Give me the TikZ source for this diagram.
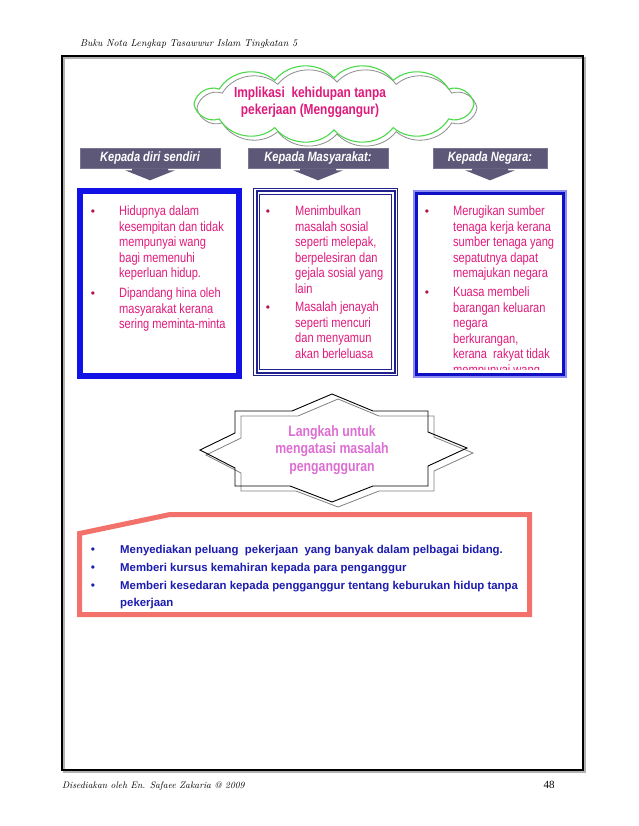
\documentclass[tikz,border=0pt]{standalone}
\usepackage{fontspec}
\usepackage{xcolor}
\usepackage{tikz}
\usetikzlibrary{arrows.meta,positioning,calc}
\newfontfamily\narrowsf{Liberation Sans}[FakeStretch=0.82]
\newfontfamily\plainsf{Liberation Sans}
\newfontfamily\numserif{Liberation Serif}
\definecolor{cPinkT}{HTML}{E01A7C}
\definecolor{cPinkB}{HTML}{B3124F}
\definecolor{cLabF}{HTML}{5E5878}
\definecolor{cLabL}{HTML}{7A7592}
\definecolor{cBlue}{HTML}{1212E6}
\definecolor{cNavy}{HTML}{20208F}
\definecolor{cBlueL}{HTML}{8C8CF2}
\definecolor{cCloud}{HTML}{4CD94C}
\definecolor{cSalmon}{HTML}{F2716B}
\definecolor{cStarT}{HTML}{DD6ED3}
\definecolor{cStepT}{HTML}{1C1CB0}

\begin{document}
\begin{tikzpicture}[x=1pt,y=-1pt,
  lab/.style={fill=cLabF,draw=cLabL,line width=0.6pt,minimum height=20pt,
    inner sep=0pt,text=white,font=\narrowsf\bfseries\itshape\fontsize{13.5}{15}\selectfont},
  body/.style={anchor=base west,inner sep=0pt,text=cPinkT,
    font=\narrowsf\fontsize{13.5}{15.5}\selectfont},
  blt/.style={anchor=base,inner sep=0pt,text=cPinkB,font=\plainsf\fontsize{12}{14}\selectfont},
  langkah/.style={anchor=base west,inner sep=0pt,text=cStepT,
    font=\plainsf\bfseries\fontsize{11.4}{14}\selectfont},
  sblt/.style={blt,text=cStepT}]

  \useasboundingbox (0,0) rectangle (638,826);
  \fill[white] (0,0) rectangle (638,826);

  \draw[black!30,line width=2.5pt] (64,58) rectangle (585,772);
  \draw[black,line width=2.5pt] (62,56) rectangle (583,770);
  \node[anchor=base west,inner sep=0pt,font=\itshape\fontsize{10}{12}\selectfont] (hdr) at (80,47)
    {Buku Nota Lengkap Tasawwur Islam Tingkatan 5};
  \node[anchor=base west,inner sep=0pt,font=\itshape\fontsize{9.5}{12}\selectfont] (ftr) at (62,788)
    {Disediakan oleh En. Safaee Zakaria @ 2009};
  \node[anchor=base,inner sep=0pt,font=\numserif\fontsize{11}{13}\selectfont] (pg) at (549,788) {48};

  \foreach \dx/\dy/\c/\lw in {3/4/black!45/0.8, 0/0/cCloud/1.1}
    {\draw[draw=\c,line width=\lw pt,shift={(\dx,\dy)},bend left=50]
       (474,104) to (448.7,118.9) to (393.2,127.6) to (334,130) to (274.8,127.6)
       to (219.3,118.9) to (194,104) to (219.3,89.1) to (274.8,80.4) to (334,78)
       to (393.2,80.4) to (448.7,89.1) to cycle;}
  \node[align=center,inner sep=0pt,text=cPinkT,
    font=\narrowsf\bfseries\fontsize{14.5}{17}\selectfont] (ttl) at (310,102)
    {Implikasi~~kehidupan tanpa\\pekerjaan (Menggangur)};

  \foreach \n/\cx/\w/\t in {1/150/140/Kepada diri sendiri,
    2/318/140/Kepada Masyarakat:, 3/490/114/Kepada Negara:}
    {\node[lab,minimum width=\w pt] (lab\n) at (\cx,158) {\t};
     \fill[cLabF] ($(lab\n.south)+(-18,0)$) -- ++(0,2) -- ++(-7,0)
       -- ($(lab\n.south)+(0,12)$) -- ($(lab\n.south)+(25,2)$) -- ++(-7,0)
       -- ++(0,-2) -- cycle;}

  \draw[cBlue,line width=6pt] (80,191) rectangle (239,376);
  \foreach \y/\t [count=\i] in {215.5/Hidupnya dalam, 231/kesempitan dan tidak,
    246.5/mempunyai wang, 262/bagi memenuhi, 277.5/keperluan hidup.,
    297.5/Dipandang hina oleh, 313/masyarakat kerana, 328.5/sering meminta-minta}
    {\node[body] (diri\i) at (119,\y) {\t};}
  \foreach \y [count=\i] in {215.5,297.5}
    {\node[blt] (bdiri\i) at (93,\y) {\textbullet};}

  \draw[cNavy,line width=1pt] (253.5,188.5) rectangle (397.5,375.5);
  \draw[cNavy,line width=2pt] (256.5,191.5) rectangle (394.5,372.5);
  \draw[cNavy,line width=1pt] (259.5,194.5) rectangle (391.5,369.5);
  \foreach \y/\t [count=\i] in {215.5/Menimbulkan, 231/masalah sosial,
    246.5/{seperti melepak,}, 262/berpelesiran dan, 277.5/gejala sosial yang, 293/lain,
    311.5/Masalah jenayah, 327/seperti mencuri, 342.5/dan menyamun, 358/akan berleluasa}
    {\node[body] (mas\i) at (295,\y) {\t};}
  \foreach \y [count=\i] in {215.5,311.5}
    {\node[blt] (bmas\i) at (268,\y) {\textbullet};}

  \draw[cBlueL,line width=2pt] (414,191) rectangle (566,377);
  \draw[cBlue!85!black,line width=3pt] (416.5,193.5) rectangle (563.5,374.5);
  \begin{scope}
    \clip (418,195) rectangle (562,369);
    \foreach \y/\t [count=\i] in {215/Merugikan sumber, 231/tenaga kerja kerana,
      246.5/sumber tenaga yang, 262/sepatutnya dapat, 277.5/memajukan negara,
      296.5/Kuasa membeli, 312/barangan keluaran, 327.5/negara, 343/{berkurangan,},
      358.5/kerana~~rakyat tidak, 374/mempunyai wang}
      {\node[body] (neg\i) at (453,\y) {\t};}
  \end{scope}
  \foreach \y [count=\i] in {215,296.5}
    {\node[blt] (bneg\i) at (427,\y) {\textbullet};}

  \draw[black!50,line width=0.8pt] ($(332,394)+(6,5)$) -- ($(373,411)+(6,5)$) -- ($(428,411)+(6,5)$)
    -- ($(428,432)+(6,5)$) -- ($(467,448)+(6,5)$) -- ($(428,466)+(6,5)$) -- ($(428,486)+(6,5)$)
    -- ($(373,486)+(6,5)$) -- ($(332,502)+(6,5)$) -- ($(290,486)+(6,5)$) -- ($(235,486)+(6,5)$)
    -- ($(235,468)+(6,5)$) -- ($(200,450)+(6,5)$) -- ($(235,433)+(6,5)$) -- ($(235,411)+(6,5)$)
    -- ($(292,411)+(6,5)$) -- cycle;
  \draw[black,line width=0.9pt] (332,394) -- (373,411) -- (428,411) -- (428,432) -- (467,448)
    -- (428,466) -- (428,486) -- (373,486) -- (332,502) -- (290,486) -- (235,486)
    -- (235,468) -- (200,450) -- (235,433) -- (235,411) -- (292,411) -- cycle;
  \node[align=center,inner sep=0pt,text=cStarT,
    font=\narrowsf\bfseries\fontsize{15}{17.5}\selectfont] (lgk) at (332,450)
    {Langkah untuk\\mengatasi masalah\\pengangguran};

  \draw[cSalmon,line width=5pt,line join=miter] (79.5,533.5) -- (170,514.5) -- (529.5,514.5)
    -- (529.5,614.5) -- (79.5,614.5) -- cycle;
  \foreach \y/\t [count=\i] in {553/Menyediakan peluang~~pekerjaan~~yang banyak dalam pelbagai bidang.,
    571/Memberi kursus kemahiran kepada para penganggur,
    589/Memberi kesedaran kepada pengganggur tentang keburukan hidup tanpa,
    606/pekerjaan}
    {\node[langkah] (lk\i) at (120,\y) {\t};}
  \foreach \y [count=\i] in {553,571,589}
    {\node[sblt] (blk\i) at (93,\y) {\textbullet};}
\end{tikzpicture}
\end{document}
